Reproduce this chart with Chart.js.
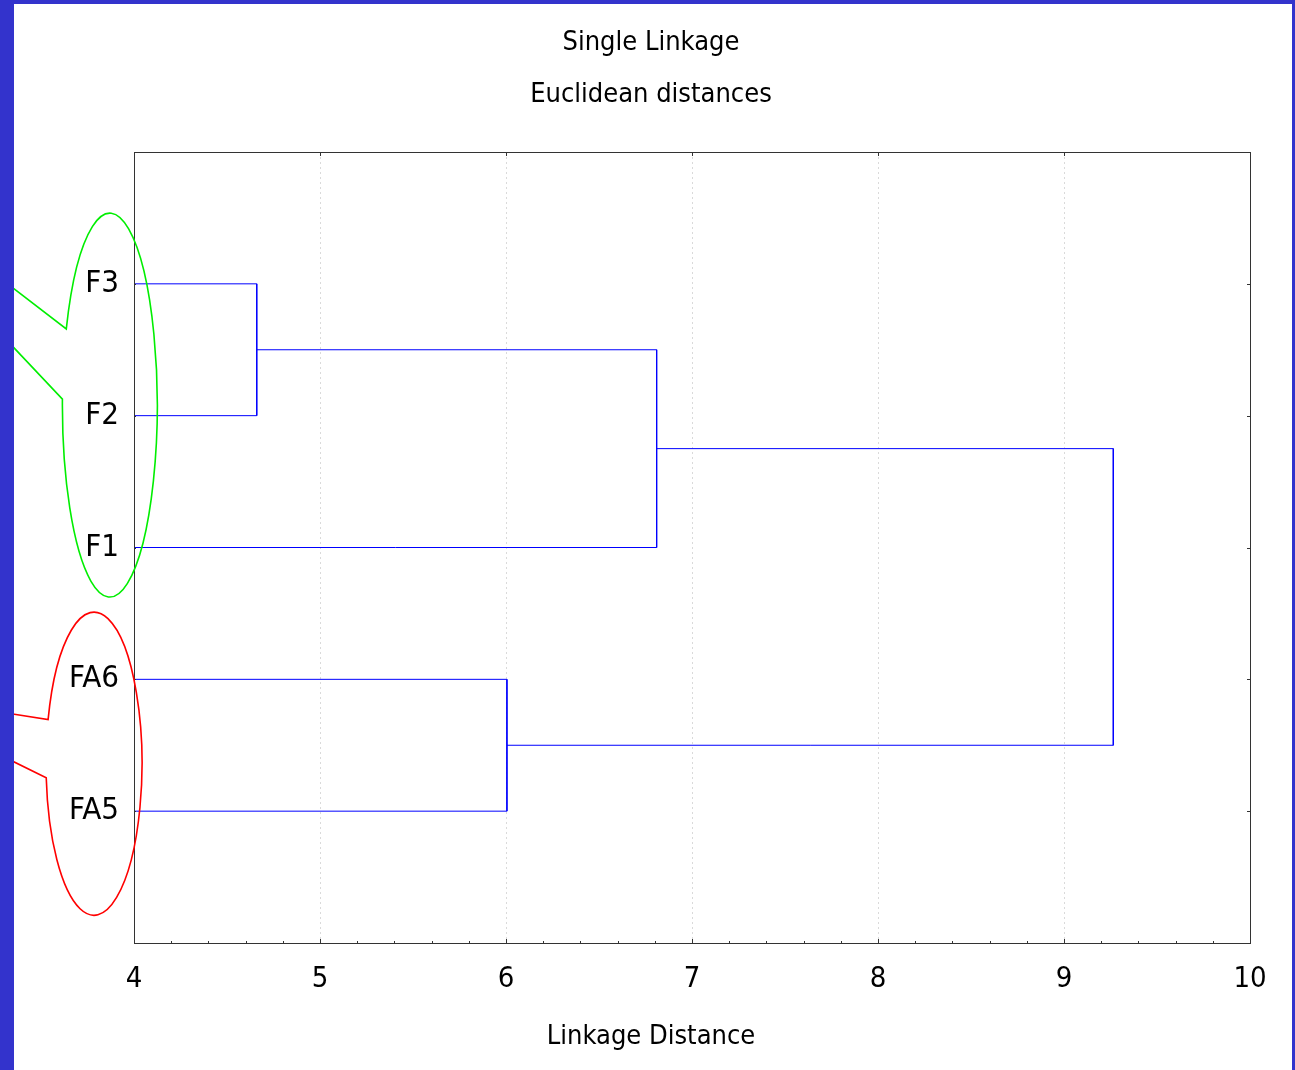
<!DOCTYPE html>
<html>
<head>
<meta charset="utf-8">
<title>Single Linkage</title>
<script src="https://cdn.jsdelivr.net/npm/chart.js@4/dist/chart.umd.min.js"></script>
<style>
  html, body { margin: 0; padding: 0; background: #fff; }
  #wrap { width: 1295px; height: 1070px; position: relative; }
</style>
</head>
<body>
<div id="wrap"><canvas id="dendro" width="1295" height="1070"></canvas></div>
<script>
// Single linkage dendrogram

// leaves, top to bottom
const leaves = ['F3', 'F2', 'F1', 'FA6', 'FA5'];
// merge steps: which two members join and at what distance
const mergeLeft = ['F3', 'C1', 'FA6', 'C2'];
const mergeRight = ['F2', 'F1', 'FA5', 'C3'];
const mergeHeight = [4.66, 6.81, 6.005, 9.265];
const xTicks = [4, 5, 6, 7, 8, 9, 10];
const titleLines = ['Single Linkage', 'Euclidean distances'];
const xTitle = 'Linkage Distance';

const FONT = '"DejaVu Sans Condensed", "Liberation Sans Narrow", sans-serif';
const xMin = 4, xMax = 10;

// position (y) and height (x) of every node
const nodeY = {};
const nodeX = {};
leaves.forEach((name, i) => { nodeY[name] = i + 1; nodeX[name] = xMin; });

const datasets = [];
mergeHeight.forEach((h, i) => {
    const a = mergeLeft[i], b = mergeRight[i];
    const id = 'C' + (i + 1);
    datasets.push({
        data: [
            {x: nodeX[a], y: nodeY[a]},
            {x: h, y: nodeY[a]},
            {x: h, y: nodeY[b]},
            {x: nodeX[b], y: nodeY[b]}
        ],
        borderColor: '#0000ff',
        borderWidth: 1,
        showLine: true,
        pointRadius: 0,
        tension: 0,
        clip: false
    });
    nodeY[id] = (nodeY[a] + nodeY[b]) / 2;
    nodeX[id] = h;
});

// highlight bubbles around the two groups (data units)
const bubbles = [
    {color: '#00ee00', cx: 3.87, cy: 1.92, rx: 0.255, ry: 1.456, a1: 203.4, a2: 181.8, tailY1: 0.956, tailY2: 1.373},
    {color: '#ff0000', cx: 3.785, cy: 4.64, rx: 0.258, ry: 1.15, a1: 196.9, a2: 174.7, tailY1: 4.248, tailY2: 4.574}
];

const decor = {
    id: 'decor',
    afterDraw(chart) {
        const ctx = chart.ctx;
        const xs = chart.scales.x, ys = chart.scales.y;
        const area = chart.chartArea;
        ctx.save();

        // frame
        ctx.strokeStyle = '#333';
        ctx.lineWidth = 1;
        ctx.strokeRect(area.left + 0.5, area.top + 0.5, area.right - area.left, area.bottom - area.top);

        // x ticks: majors on top and bottom, minors on bottom
        ctx.beginPath();
        for (let k = 0; k <= (xMax - xMin) * 5; k++) {
            const v = xMin + k * 0.2;
            const px = Math.round(xs.getPixelForValue(v)) + 0.5;
            const major = k % 5 === 0;
            ctx.moveTo(px, area.bottom);
            ctx.lineTo(px, area.bottom - (major ? 4 : 2));
            if (major) {
                ctx.moveTo(px, area.top);
                ctx.lineTo(px, area.top + 4);
            }
        }
        // y ticks on the right side
        leaves.forEach((name, i) => {
            const py = Math.round(ys.getPixelForValue(i + 1)) + 0.5;
            ctx.moveTo(area.right, py);
            ctx.lineTo(area.right - 3, py);
            ctx.moveTo(area.left, py);
            ctx.lineTo(area.left + 2, py);
        });
        ctx.stroke();

        // titles, centred on the slide
        const midX = 651;
        ctx.fillStyle = '#000';
        ctx.textAlign = 'center';
        ctx.textBaseline = 'middle';
        ctx.font = '27px ' + FONT;
        titleLines.forEach((t, i) => ctx.fillText(t, midX, 43 + i * 52));
        ctx.fillText(xTitle, midX, 1037);

        // bubbles with tails going off to the left
        const tailX = xs.getPixelForValue(3.2);
        bubbles.forEach(b => {
            const cx = xs.getPixelForValue(b.cx), cy = ys.getPixelForValue(b.cy);
            const rx = xs.getPixelForValue(b.cx + b.rx) - cx;
            const ry = ys.getPixelForValue(b.cy + b.ry) - cy;
            const t1 = b.a1 * Math.PI / 180, t2 = (b.a2 + 360) * Math.PI / 180;
            const p1 = [cx + rx * Math.cos(t1), cy + ry * Math.sin(t1)];
            const y1 = ys.getPixelForValue(b.tailY1), y2 = ys.getPixelForValue(b.tailY2);
            ctx.beginPath();
            ctx.strokeStyle = b.color;
            ctx.lineWidth = 1.6;
            const s1 = (p1[1] - y1) / p1[0];
            ctx.moveTo(tailX, y1 + s1 * tailX);
            ctx.lineTo(p1[0], p1[1]);
            ctx.ellipse(cx, cy, rx, ry, 0, t1, t2, false);
            const p2 = [cx + rx * Math.cos(t2), cy + ry * Math.sin(t2)];
            const s2 = (p2[1] - y2) / p2[0];
            ctx.lineTo(tailX, y2 + s2 * tailX);
            ctx.stroke();
        });

        // slide border
        ctx.fillStyle = '#3333cc';
        ctx.fillRect(0, 0, 14, chart.height);
        ctx.fillRect(0, 0, chart.width, 4);
        ctx.fillRect(chart.width - 3, 0, 3, chart.height);
        ctx.restore();
    }
};

new Chart(document.getElementById('dendro'), {
    type: 'scatter',
    data: { datasets: datasets },
    options: {
        responsive: false,
        animation: false,
        layout: { padding: { left: 14, right: 45, top: 152, bottom: 0 } },
        plugins: {
            legend: { display: false },
            tooltip: { enabled: false },
            title: { display: false }
        },
        scales: {
            x: {
                type: 'linear',
                min: xMin,
                max: xMax,
                afterBuildTicks: s => { s.ticks = xTicks.map(v => ({value: v})); },
                afterFit: s => { s.height = 127; },
                grid: { display: true, drawTicks: false, color: '#dadada', lineWidth: 1 },
                border: { display: false, dash: [2, 3] },
                ticks: { color: '#000', font: { family: FONT, size: 29 }, padding: 19, maxRotation: 0 },
                title: { display: false }
            },
            y: {
                type: 'linear',
                min: 0,
                max: 6,
                reverse: true,
                afterBuildTicks: s => { s.ticks = leaves.map((n, i) => ({value: i + 1})); },
                afterFit: s => { s.width = 120; },
                grid: { display: false, drawTicks: false },
                border: { display: false },
                ticks: {
                    color: '#000',
                    font: { family: FONT, size: 31 },
                    padding: 15,
                    callback: v => leaves[v - 1]
                }
            }
        }
    },
    plugins: [decor]
});
</script>
</body>
</html>
